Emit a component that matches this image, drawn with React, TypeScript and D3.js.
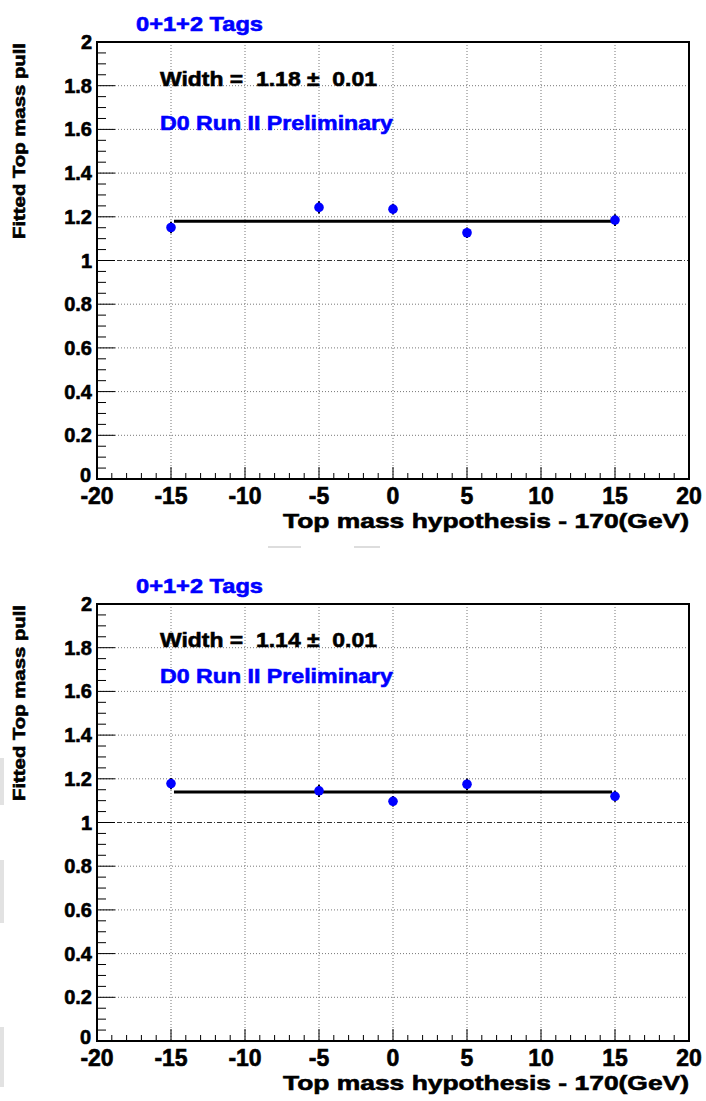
import React from 'react';
import * as d3 from 'd3';

// mass hypothesis shifts (GeV) and fitted pull widths
const massShift = [-15, -5, 0, 5, 15];
const pullTop = [1.151, 1.243, 1.235, 1.127, 1.185];
const errTop = [0.026, 0.028, 0.025, 0.024, 0.027];
const pullBottom = [1.178, 1.145, 1.097, 1.175, 1.12];
const errBottom = [0.026, 0.028, 0.024, 0.026, 0.025];
const fitWidths = [1.18, 1.14];
const fitErrors = [0.01, 0.01];
const fitRange = [-14.8, 14.8];
const xTicks = [-20, -15, -10, -5, 0, 5, 10, 15, 20];
const yTicks = [0, 0.2, 0.4, 0.6, 0.8, 1, 1.2, 1.4, 1.6, 1.8, 2];

const W = 706;
const H = 1101;
const left = 97;
const right = 689;
const plotH = 437;
const font = "'Liberation Sans', Arial, Helvetica, sans-serif";
const blue = '#0000ff';

type PanelProps = {
  top: number;
  values: number[];
  errors: number[];
  width: number;
  widthErr: number;
  d0Offset: number;
  widthOffset: number;
};

const heavy = (c: string) => ({ fill: c, stroke: c, strokeWidth: 0.6 });

const Panel = ({ top, values, errors, width, widthErr, d0Offset, widthOffset }: PanelProps) => {
  const x = d3.scaleLinear().domain([-20, 20]).range([left, right]);
  const y = d3.scaleLinear().domain([0, 2]).range([top + plotH, top]);
  const bottom = top + plotH;

  const xMinor = d3.range(-19, 20, 1).filter((v) => v % 5 !== 0);
  const yMinor = d3.range(0, 2.0001, 0.05).filter((v) => Math.abs(v * 5 - Math.round(v * 5)) > 1e-6);
  const fmt = (v: number) => String(+v.toFixed(1));

  return (
    <g>
      {/* grid */}
      {xTicks.slice(1, -1).map((t) => (
        <line key={'gx' + t} x1={x(t)} x2={x(t)} y1={top} y2={bottom}
          stroke="#777" strokeWidth={1} strokeDasharray="1,2" />
      ))}
      {yTicks.slice(1, -1).filter((t) => t !== 1).map((t) => (
        <line key={'gy' + t} x1={left} x2={right} y1={y(t)} y2={y(t)}
          stroke="#777" strokeWidth={1} strokeDasharray="1,2" />
      ))}
      {/* reference line at 1 */}
      <line x1={left} x2={right} y1={y(1)} y2={y(1)} stroke="#333" strokeWidth={1}
        strokeDasharray="5,2,1,2" />

      {/* frame */}
      <rect x={left} y={top} width={right - left} height={plotH} fill="none" stroke="#000" strokeWidth={2} />

      {/* x ticks */}
      {xTicks.map((t) => (
        <line key={'xt' + t} x1={x(t)} x2={x(t)} y1={bottom} y2={bottom - 12} stroke="#000" strokeWidth={1} />
      ))}
      {xMinor.map((t) => (
        <line key={'xm' + t} x1={x(t)} x2={x(t)} y1={bottom} y2={bottom - 6} stroke="#000" strokeWidth={1} />
      ))}
      {xTicks.map((t) => (
        <text key={'xl' + t} x={x(t)} y={bottom + 25} textAnchor="middle" fontFamily={font}
          fontWeight="bold" fontSize={23} {...heavy('#000')}>{t}</text>
      ))}

      {/* y ticks */}
      {yTicks.map((t) => (
        <line key={'yt' + t} x1={left} x2={left + 18} y1={y(t)} y2={y(t)} stroke="#000" strokeWidth={1} />
      ))}
      {yMinor.map((t) => (
        <line key={'ym' + t} x1={left} x2={left + 9} y1={y(t)} y2={y(t)} stroke="#000" strokeWidth={1} />
      ))}
      {yTicks.map((t) => (
        <text key={'yl' + t} x={t === 0 ? left - 6 : left - 5} y={t === 0 ? y(t) + 3 : y(t) + 7}
          textAnchor="end" fontFamily={font} fontWeight="bold" fontSize={20} {...heavy('#000')}>{fmt(t)}</text>
      ))}

      {/* fit line */}
      <line x1={x(fitRange[0])} x2={x(fitRange[1])} y1={y(width)} y2={y(width)} stroke="#000" strokeWidth={3} />

      {/* points */}
      {massShift.map((m, i) => (
        <g key={'p' + m}>
          <line x1={x(m)} x2={x(m)} y1={y(values[i] - errors[i])} y2={y(values[i] + errors[i])}
            stroke="#000" strokeWidth={2} />
          <circle cx={x(m)} cy={y(values[i])} r={4.8} fill={blue} />
        </g>
      ))}

      {/* labels */}
      <text x={136} y={top - 11} fontFamily={font} fontWeight="bold" fontSize={21} {...heavy(blue)}
        textLength={127} lengthAdjust="spacingAndGlyphs">0+1+2 Tags</text>
      <text x={160} y={top + widthOffset} fontFamily={font} fontWeight="bold" fontSize={21} {...heavy('#000')}
        style={{ whiteSpace: 'pre' }} textLength={217} lengthAdjust="spacingAndGlyphs">
        {`Width =  ${width.toFixed(2)} \u00b1  ${widthErr.toFixed(2)}`}
      </text>
      <text x={160} y={top + d0Offset} fontFamily={font} fontWeight="bold" fontSize={21} {...heavy(blue)}
        textLength={233} lengthAdjust="spacingAndGlyphs">D0 Run II Preliminary</text>

      <text transform={`translate(25, ${top + 1}) rotate(-90)`} textAnchor="end" fontFamily={font}
        fontWeight="bold" fontSize={17} {...heavy('#000')} textLength={196} lengthAdjust="spacingAndGlyphs">Fitted Top mass pull</text>
      <text x={right} y={bottom + 49} textAnchor="end" fontFamily={font} fontWeight="bold" fontSize={21}
        {...heavy('#000')} textLength={406} lengthAdjust="spacingAndGlyphs">Top mass hypothesis - 170(GeV)</text>
    </g>
  );
};

export default function App() {
  return (
    <svg width={W} height={H} style={{ position: 'absolute', left: 0, top: 0, background: '#fff' }}>
      <rect width={W} height={H} fill="#fff" />
      {/* faint scan marks */}
      <rect x={268} y={546} width={33} height={2} fill="#ddd" />
      <rect x={354} y={546} width={26} height={2} fill="#ddd" />
      <rect x={0} y={758} width={4} height={47} fill="#e2e2e2" />
      <rect x={0} y={860} width={4} height={63} fill="#e2e2e2" />
      <rect x={0} y={1027} width={4} height={60} fill="#e2e2e2" />
      <Panel top={42} values={pullTop} errors={errTop} width={fitWidths[0]} widthErr={fitErrors[0]}
        widthOffset={44} d0Offset={88} />
      <Panel top={604} values={pullBottom} errors={errBottom} width={fitWidths[1]} widthErr={fitErrors[1]}
        widthOffset={43} d0Offset={79} />
    </svg>
  );
}
